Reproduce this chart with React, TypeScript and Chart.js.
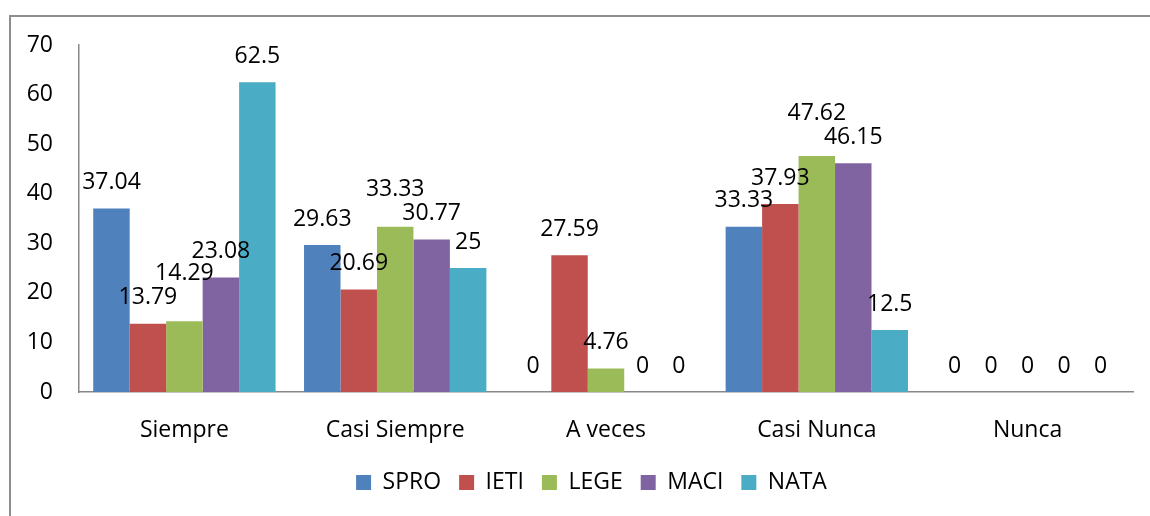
import React, { useEffect, useRef } from "react";
import { Chart, registerables } from "chart.js";

Chart.register(...registerables);

const categories = ["Siempre", "Casi Siempre", "A veces", "Casi Nunca", "Nunca"];
const seriesNames = ["SPRO", "IETI", "LEGE", "MACI", "NATA"];
const spro = [37.04, 29.63, 0, 33.33, 0];
const ieti = [13.79, 20.69, 27.59, 37.93, 0];
const lege = [14.29, 33.33, 4.76, 47.62, 0];
const maci = [23.08, 30.77, 0, 46.15, 0];
const nata = [62.5, 25, 0, 12.5, 0];
const seriesValues = [spro, ieti, lege, maci, nata];
const seriesColors = ["#4F81BD", "#C0504D", "#9BBB59", "#8064A2", "#4BACC6"];
const yMin = 0;
const yMax = 70;
const yStep = 10;

const FONT_FAMILY = '"Open Sans", "Noto Sans", sans-serif';
const FONT_SIZE = 23;

const barLabelPlugin = {
  id: "barLabels",
  afterDatasetsDraw(chart: any) {
    const ctx = chart.ctx;
    ctx.save();
    ctx.font = `${FONT_SIZE}px ${FONT_FAMILY}`;
    ctx.fillStyle = "#000";
    ctx.textAlign = "center";
    ctx.textBaseline = "middle";
    const n = chart.data.labels.length;
    for (let j = 0; j < n; j++) {
      const items = chart.data.datasets.map((ds: any, i: number) => {
        const el = chart.getDatasetMeta(i).data[j];
        const v = ds.data[j];
        const text = String(v);
        const w = ctx.measureText(text).width;
        return { x: el.x, y: el.y - 26, w, v, text };
      });
      for (let i = 0; i < items.length - 1; i++) {
        const a = items[i];
        const b = items[i + 1];
        const hOverlap = Math.abs(a.x - b.x) < (a.w + b.w) / 2;
        if (hOverlap && Math.abs(a.y - b.y) < 20) {
          if (b.v >= a.v) b.y = a.y - 24;
          else a.y = b.y - 24;
        }
      }
      items.forEach((it: any) => ctx.fillText(it.text, it.x, it.y));
    }
    ctx.restore();
  },
};

const legendShiftPlugin = {
  id: "legendShift",
  afterLayout(chart: any) {
    if (chart.legend) {
      chart.legend.left += 50;
      chart.legend.right += 0;
    }
  },
};

export default function App() {
  const ref = useRef<HTMLCanvasElement>(null);

  useEffect(() => {
    const font = { family: FONT_FAMILY, size: FONT_SIZE };
    const chart = new Chart(ref.current as HTMLCanvasElement, {
      type: "bar",
      data: {
        labels: categories,
        datasets: seriesNames.map((name, i) => ({
          label: name,
          data: seriesValues[i],
          backgroundColor: seriesColors[i],
          borderWidth: 0,
          barPercentage: 1,
          categoryPercentage: 0.865,
        })),
      },
      options: {
        responsive: false,
        animation: false,
        devicePixelRatio: 1,
        layout: { padding: { top: 45, right: 17, left: 0, bottom: 12 } },
        plugins: {
          legend: {
            position: "bottom",
            labels: {
              boxWidth: 15,
              boxHeight: 15,
              padding: 18,
              font,
              color: "#000",
            },
          },
          tooltip: { enabled: false },
        },
        scales: {
          x: {
            grid: { display: false, drawTicks: false },
            border: { display: true, color: "#888888", width: 1.5 },
            ticks: { font, color: "#000", padding: 25 },
            afterFit: (s: any) => {
              s.height = 61;
            },
          },
          y: {
            min: yMin,
            max: yMax,
            ticks: { stepSize: yStep, font, color: "#000", padding: 26 },
            grid: { display: false, drawTicks: false },
            border: { display: true, color: "#888888", width: 1.5 },
            afterFit: (s: any) => {
              s.width = 79;
            },
          },
        },
      },
      plugins: [barLabelPlugin, legendShiftPlugin],
    } as any);
    return () => chart.destroy();
  }, []);

  return (
    <div
      style={{
        position: "fixed",
        left: 0,
        top: 0,
        width: 1150,
        height: 516,
        overflow: "hidden",
        background: "#fff",
      }}
    >
      <div
        style={{
          position: "absolute",
          left: 9,
          top: 15,
          width: 1200,
          height: 600,
          borderLeft: "2px solid #8e8e8e",
          borderTop: "2px solid #8e8e8e",
        }}
      />
      <canvas
        ref={ref}
        width={1150}
        height={516}
        style={{ position: "absolute", left: 0, top: 0, width: 1150, height: 516 }}
      />
    </div>
  );
}
